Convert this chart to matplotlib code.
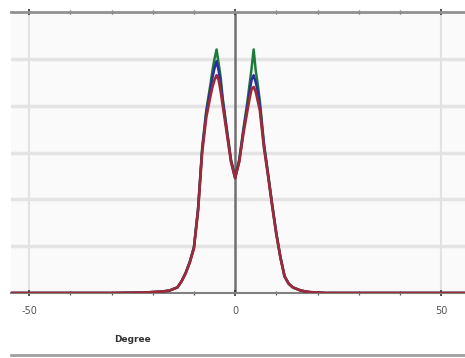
import matplotlib
matplotlib.use("Agg")
import matplotlib.pyplot as plt
from matplotlib.ticker import MultipleLocator

deg = [-55, -30, -22, -20, -18, -16, -14, -13, -12, -11,
       -10, -9, -8, -7, -6, -5.5, -5, -4.5, -4, -3.5,
       -3, -2, -1, 0, 1, 2, 3, 3.5, 4, 4.5,
       5, 5.5, 6, 7, 8, 9, 10, 11, 12, 13,
       14, 16, 18, 20, 22, 30, 56]

red = [0, 0, 0.01, 0.02, 0.03, 0.05, 0.12, 0.25, 0.42, 0.65,
       0.95, 1.75, 3.0, 3.75, 4.2, 4.4, 4.55, 4.65, 4.55, 4.3,
       4.0, 3.4, 2.8, 2.45, 2.8, 3.4, 3.9, 4.15, 4.35, 4.4,
       4.3, 4.1, 3.9, 3.1, 2.5, 1.85, 1.25, 0.75, 0.35, 0.2,
       0.12, 0.05, 0.02, 0.01, 0, 0, 0]

blue = [0, 0, 0.01, 0.02, 0.03, 0.05, 0.12, 0.25, 0.43, 0.66,
        0.97, 1.78, 3.05, 3.85, 4.35, 4.6, 4.8, 4.95, 4.75, 4.45,
        4.1, 3.45, 2.82, 2.45, 2.82, 3.45, 4.0, 4.3, 4.55, 4.65,
        4.5, 4.3, 4.0, 3.15, 2.52, 1.87, 1.27, 0.76, 0.36, 0.2,
        0.12, 0.05, 0.02, 0.01, 0, 0, 0]

green = [0, 0, 0.01, 0.02, 0.03, 0.05, 0.12, 0.25, 0.43, 0.67,
         0.98, 1.8, 3.1, 3.9, 4.45, 4.75, 5.0, 5.2, 4.9, 4.6,
         4.15, 3.5, 2.85, 2.5, 2.85, 3.5, 4.1, 4.45, 4.8, 5.2,
         4.75, 4.45, 4.1, 3.2, 2.55, 1.9, 1.28, 0.77, 0.36, 0.2,
         0.12, 0.05, 0.02, 0.01, 0, 0, 0]

xticks = [-50, 0, 50]
xlabel = "Degree"

fig = plt.figure(figsize=(4.65, 3.58), dpi=100)
ax = fig.add_axes([11/465, (358-293)/358, 1 - 11/465, (293-12)/358])
ax.set_facecolor("#fafafa")

for yv in [1, 2, 3, 4, 5]:
    ax.axhline(yv, color="#e4e4e4", lw=2.5, zorder=0)
for xv in [-50, 50]:
    ax.axvline(xv, color="#e2e2e2", lw=1.5, zorder=0)
ax.axvline(0, color="#707070", lw=1.8, zorder=1)

ax.plot(deg, green, color="#1f7a3a", lw=1.8, zorder=3)
ax.plot(deg, blue, color="#2b2f9e", lw=1.8, zorder=4)
ax.plot(deg, red, color="#9e2a38", lw=1.9, zorder=5)

ax.set_xlim(-54.4, 55.8)
ax.set_ylim(0, 6)

for s in ["left", "right"]:
    ax.spines[s].set_visible(False)
ax.spines["top"].set_color("#909090")
ax.spines["top"].set_linewidth(2)
ax.spines["bottom"].set_color("#808080")
ax.spines["bottom"].set_linewidth(1.5)

ax.set_yticks([])
ax.set_xticks(xticks)
ax.set_xticklabels([str(t) for t in xticks], fontsize=7, color="#555555")
ax.xaxis.set_minor_locator(MultipleLocator(10))
ax.tick_params(axis="x", which="major", direction="inout", length=5, width=1.2,
               color="#333333", top=True, pad=7)
ax.tick_params(axis="x", which="minor", direction="inout", length=3, width=0.9,
               color="#555555", top=True)

fig.text(132/465, 1 - 339/358, xlabel, fontsize=6.5, fontweight="bold",
         ha="center", va="center", color="#333333")
fig.add_artist(plt.Line2D([11/465, 1], [1 - 355/358, 1 - 355/358],
                          transform=fig.transFigure, color="#a0a0a0", lw=2))

fig.savefig("out.png", dpi=100)
